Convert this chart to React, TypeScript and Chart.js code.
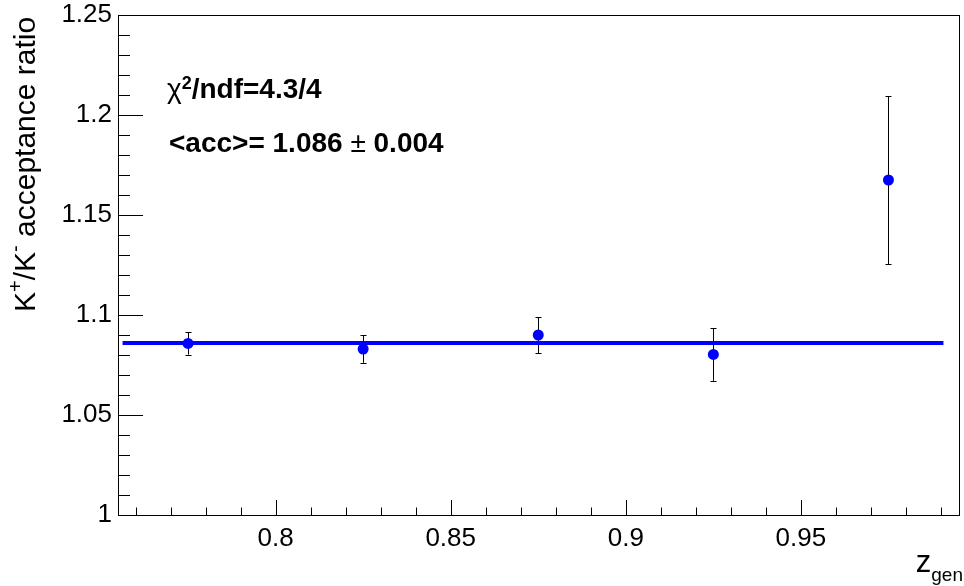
import React, { useEffect, useRef } from "react";
import { Chart, registerables } from "chart.js";

Chart.register(...registerables);

// ---- data ----
const zGen = [0.775, 0.825, 0.875, 0.925, 0.975];
const accRatio = [1.0858, 1.083, 1.09, 1.0803, 1.1675];
const accErr = [0.0056, 0.0069, 0.009, 0.0132, 0.042];
const fitMean = 1.086;
const fitRange = [0.7563, 0.9907];
const xRange = [0.755, 0.995];
const yRange = [1.0, 1.25];
const xTickValues = [0.8, 0.85, 0.9, 0.95];
const xTickLabels = ["0.8", "0.85", "0.9", "0.95"];
const yTickValues = [1.0, 1.05, 1.1, 1.15, 1.2, 1.25];
const yTickLabels = ["1", "1.05", "1.1", "1.15", "1.2", "1.25"];
const xMinorStep = 0.01;
const yMinorStep = 0.01;
const chiText = "/ndf=4.3/4";
const accText = ["<acc>= 1.086 ", "\u00B1", " 0.004"];

const FONT = "'Liberation Sans', Arial, Helvetica, sans-serif";

const rootPlugin = {
  id: "rootStyle",
  beforeDatasetsDraw(chart: any) {
    const ctx = chart.ctx;
    const xs = chart.scales.x;
    const ys = chart.scales.y;
    ctx.save();
    ctx.strokeStyle = "#000";
    ctx.lineWidth = 1;
    for (let i = 0; i < zGen.length; i++) {
      const px = Math.round(xs.getPixelForValue(zGen[i])) + 0.5;
      const top = ys.getPixelForValue(accRatio[i] + accErr[i]);
      const bot = ys.getPixelForValue(accRatio[i] - accErr[i]);
      ctx.beginPath();
      ctx.moveTo(px, top);
      ctx.lineTo(px, bot);
      ctx.moveTo(px - 3, Math.round(top) + 0.5);
      ctx.lineTo(px + 3, Math.round(top) + 0.5);
      ctx.moveTo(px - 3, Math.round(bot) + 0.5);
      ctx.lineTo(px + 3, Math.round(bot) + 0.5);
      ctx.stroke();
    }
    ctx.restore();
  },
  afterDraw(chart: any) {
    const ctx = chart.ctx;
    const xs = chart.scales.x;
    const ys = chart.scales.y;
    const a = chart.chartArea;
    ctx.save();
    ctx.strokeStyle = "#000";
    ctx.lineWidth = 1;
    // frame
    ctx.strokeRect(Math.round(a.left) + 0.5, Math.round(a.top) + 0.5, Math.round(a.right - a.left), Math.round(a.bottom - a.top));
    // x ticks
    ctx.beginPath();
    const nxs = Math.ceil(xRange[0] / xMinorStep - 1e-6);
    const nxe = Math.floor(xRange[1] / xMinorStep + 1e-6);
    for (let i = nxs; i <= nxe; i++) {
      const px = Math.round(xs.getPixelForValue(i * xMinorStep)) + 0.5;
      ctx.moveTo(px, a.bottom);
      ctx.lineTo(px, a.bottom - 7.5);
    }
    xTickValues.forEach((v) => {
      const px = Math.round(xs.getPixelForValue(v)) + 0.5;
      ctx.moveTo(px, a.bottom);
      ctx.lineTo(px, a.bottom - 15);
    });
    // y ticks
    const nys = Math.ceil(yRange[0] / yMinorStep - 1e-6);
    const nye = Math.floor(yRange[1] / yMinorStep + 1e-6);
    for (let i = nys; i <= nye; i++) {
      const py = Math.round(ys.getPixelForValue(i * yMinorStep)) + 0.5;
      ctx.moveTo(a.left, py);
      ctx.lineTo(a.left + 12, py);
    }
    yTickValues.forEach((v) => {
      const py = Math.round(ys.getPixelForValue(v)) + 0.5;
      ctx.moveTo(a.left, py);
      ctx.lineTo(a.left + 25, py);
    });
    ctx.stroke();

    ctx.fillStyle = "#000";
    ctx.textBaseline = "alphabetic";
    ctx.textAlign = "left";
    // chi2 text
    let x = 167;
    ctx.font = `28px ${FONT}`;
    ctx.fillText("\u03C7", x, 98);
    x += ctx.measureText("\u03C7").width;
    ctx.font = `bold 18px ${FONT}`;
    ctx.fillText("2", x, 89);
    x += ctx.measureText("2").width;
    ctx.font = `bold 28px ${FONT}`;
    ctx.fillText(chiText, x, 98);
    // acc text
    x = 169;
    ctx.font = `bold 28px ${FONT}`;
    ctx.fillText(accText[0], x, 152);
    x += ctx.measureText(accText[0]).width;
    ctx.font = `28px ${FONT}`;
    ctx.fillText(accText[1], x, 152);
    x += ctx.measureText(accText[1]).width;
    ctx.font = `bold 28px ${FONT}`;
    ctx.fillText(accText[2], x, 152);

    // y-axis title (rotated)
    ctx.save();
    ctx.translate(35, 312);
    ctx.rotate(-Math.PI / 2);
    let t = 0;
    const big = `30px ${FONT}`;
    const sup = `20px ${FONT}`;
    const parts: [string, boolean][] = [["K", false], ["+", true], ["/K", false], ["-", true], [" acceptance ratio", false]];
    parts.forEach(([s, isSup]) => {
      ctx.font = isSup ? sup : big;
      ctx.fillText(s, t, isSup ? -13 : 0);
      t += ctx.measureText(s).width;
    });
    ctx.restore();

    // x-axis title
    ctx.font = `19px ${FONT}`;
    const gw = ctx.measureText("gen").width;
    ctx.fillText("gen", 963 - gw, 581);
    ctx.font = `31px ${FONT}`;
    const zw = ctx.measureText("z").width;
    ctx.fillText("z", 963 - gw - zw, 572);
    ctx.restore();
  },
};

export default function App() {
  const ref = useRef<HTMLCanvasElement | null>(null);
  useEffect(() => {
    if (!ref.current) return;
    const chart = new Chart(ref.current, {
      type: "scatter",
      data: {
        datasets: [
          {
            type: "line",
            data: [
              { x: fitRange[0], y: fitMean },
              { x: fitRange[1], y: fitMean },
            ],
            borderColor: "#0000ff",
            borderWidth: 4,
            pointRadius: 0,
            fill: false,
            order: 2,
          } as any,
          {
            type: "scatter",
            data: zGen.map((z, i) => ({ x: z, y: accRatio[i] })),
            backgroundColor: "#0000ff",
            borderColor: "#0000ff",
            borderWidth: 0,
            pointRadius: 5.5,
            order: 1,
          },
        ],
      },
      options: {
        animation: false,
        responsive: false,
        events: [],
        layout: { padding: { top: 15, right: 4, left: 0, bottom: 0 } },
        plugins: { legend: { display: false }, tooltip: { enabled: false } },
        scales: {
          x: {
            type: "linear",
            min: xRange[0],
            max: xRange[1],
            grid: { display: false, drawTicks: false },
            border: { display: false },
            afterBuildTicks: (s: any) => {
              s.ticks = xTickValues.map((v) => ({ value: v }));
            },
            afterFit: (s: any) => {
              s.height = 71;
              s.paddingLeft = 0;
              s.paddingRight = 0;
            },
            ticks: {
              autoSkip: false,
              maxRotation: 0,
              padding: 8,
              color: "#000",
              font: { family: FONT, size: 26 },
              callback: (_v: any, i: number) => xTickLabels[i],
            },
          },
          y: {
            type: "linear",
            min: yRange[0],
            max: yRange[1],
            grid: { display: false, drawTicks: false },
            border: { display: false },
            afterBuildTicks: (s: any) => {
              s.ticks = yTickValues.map((v) => ({ value: v }));
            },
            afterFit: (s: any) => {
              s.width = 118;
              s.paddingTop = 0;
              s.paddingBottom = 0;
            },
            ticks: {
              autoSkip: false,
              padding: 6,
              color: "#000",
              font: { family: FONT, size: 26 },
              callback: (_v: any, i: number) => yTickLabels[i],
            },
          },
        },
      },
      plugins: [rootPlugin],
    });
    return () => chart.destroy();
  }, []);
  return (
    <div style={{ position: "fixed", left: 0, top: 0, width: 964, height: 586, background: "#fff" }}>
      <canvas ref={ref} width={964} height={586} style={{ display: "block" }} />
    </div>
  );
}
